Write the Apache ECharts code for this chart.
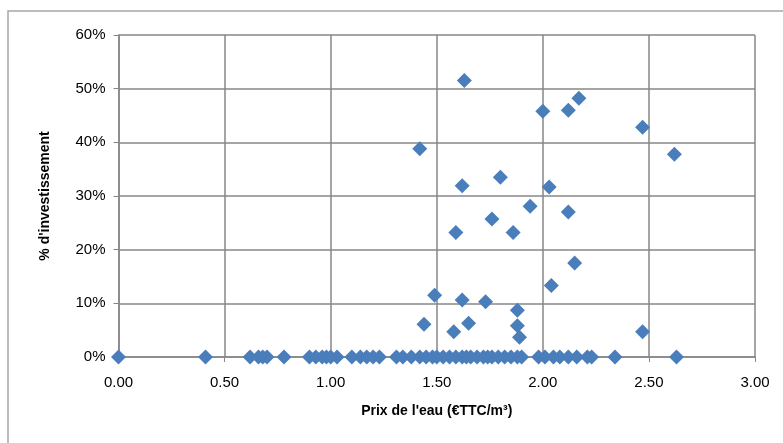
<!DOCTYPE html>
<html>
<head>
<meta charset="utf-8">
<script src="https://cdn.jsdelivr.net/npm/echarts@6/dist/echarts.min.js"></script>
<style>html,body{margin:0;padding:0;background:#fff}#c{width:783px;height:443px}</style>
</head>
<body>
<div id="c"></div>
<script>
// Prix de l'eau (€TTC/m³) for points with non-zero investment share
const priceNonZero = [1.42, 1.63, 2.00, 2.12, 2.17, 2.47, 2.62, 1.62, 1.80, 2.03, 1.94, 2.12, 1.76, 1.59, 1.86, 2.15, 2.04, 1.49, 1.62, 1.73, 1.88, 1.44, 1.65, 1.58, 1.88, 1.89, 2.47];
// % d'investissement (fraction) matching priceNonZero
const investNonZero = [0.388, 0.515, 0.458, 0.460, 0.482, 0.428, 0.378, 0.319, 0.335, 0.317, 0.281, 0.270, 0.257, 0.232, 0.232, 0.175, 0.133, 0.115, 0.106, 0.103, 0.087, 0.061, 0.063, 0.047, 0.058, 0.037, 0.047];
// Prices for points with 0% investment
const priceZero = [0.00, 0.41, 0.62, 0.66, 0.68, 0.70, 0.78, 0.90, 0.93, 0.96, 0.98, 1.00, 1.03, 1.10, 1.14, 1.17, 1.20, 1.23, 1.31, 1.34, 1.38, 1.42, 1.45, 1.48, 1.50, 1.53, 1.56, 1.59, 1.62, 1.64, 1.66, 1.69, 1.72, 1.74, 1.76, 1.79, 1.82, 1.85, 1.88, 1.90, 1.98, 2.01, 2.05, 2.08, 2.12, 2.16, 2.21, 2.23, 2.34, 2.63];
const xTicks = [0, 0.5, 1, 1.5, 2, 2.5, 3];
const yTicks = [0, 0.1, 0.2, 0.3, 0.4, 0.5, 0.6];

const data = [];
priceNonZero.forEach((p, i) => data.push([p, investNonZero[i]]));
priceZero.forEach(p => data.push([p, 0]));

const chart = echarts.init(document.getElementById('c'), null, {renderer: 'canvas'});
const grey = '#878787';
const font = 'Liberation Sans, Arial, sans-serif';
chart.setOption({
  animation: false,
  graphic: [{
    type: 'rect', shape: {x: 8, y: 11, width: 800, height: 460},
    style: {fill: 'none', stroke: '#a6a6a6', lineWidth: 1.5}, z: -10
  }],
  grid: {left: 118.5, right: 28, top: 35, bottom: 86},
  xAxis: {
    type: 'value', min: xTicks[0], max: xTicks[xTicks.length - 1], interval: 0.5,
    name: "Prix de l'eau (€TTC/m³)", nameLocation: 'middle', nameGap: 47,
    nameTextStyle: {fontFamily: font, fontWeight: 'bold', fontSize: 14, color: '#000'},
    axisLine: {lineStyle: {color: grey, width: 1.5}},
    axisTick: {show: true, length: 5, lineStyle: {color: grey}},
    axisLabel: {fontFamily: font, fontSize: 15, color: '#000', margin: 18, formatter: v => v.toFixed(2)},
    splitLine: {show: true, lineStyle: {color: grey, width: 1.5}}
  },
  yAxis: {
    type: 'value', min: yTicks[0], max: yTicks[yTicks.length - 1], interval: 0.1,
    name: "% d'investissement", nameLocation: 'middle', nameGap: 66, nameRotate: 90,
    nameTextStyle: {fontFamily: font, fontWeight: 'bold', fontSize: 14, color: '#000'},
    axisLine: {show: true, lineStyle: {color: grey, width: 1.5}},
    axisTick: {show: true, length: 5, lineStyle: {color: grey}},
    axisLabel: {fontFamily: font, fontSize: 15, color: '#000', margin: 13, formatter: v => Math.round(v * 100) + '%'},
    splitLine: {show: true, lineStyle: {color: grey, width: 1.5}}
  },
  series: [{
    type: 'scatter', symbol: 'diamond', symbolSize: 15,
    itemStyle: {color: '#4a7ebb', opacity: 1},
    data: data
  }]
});
</script>
</body>
</html>
